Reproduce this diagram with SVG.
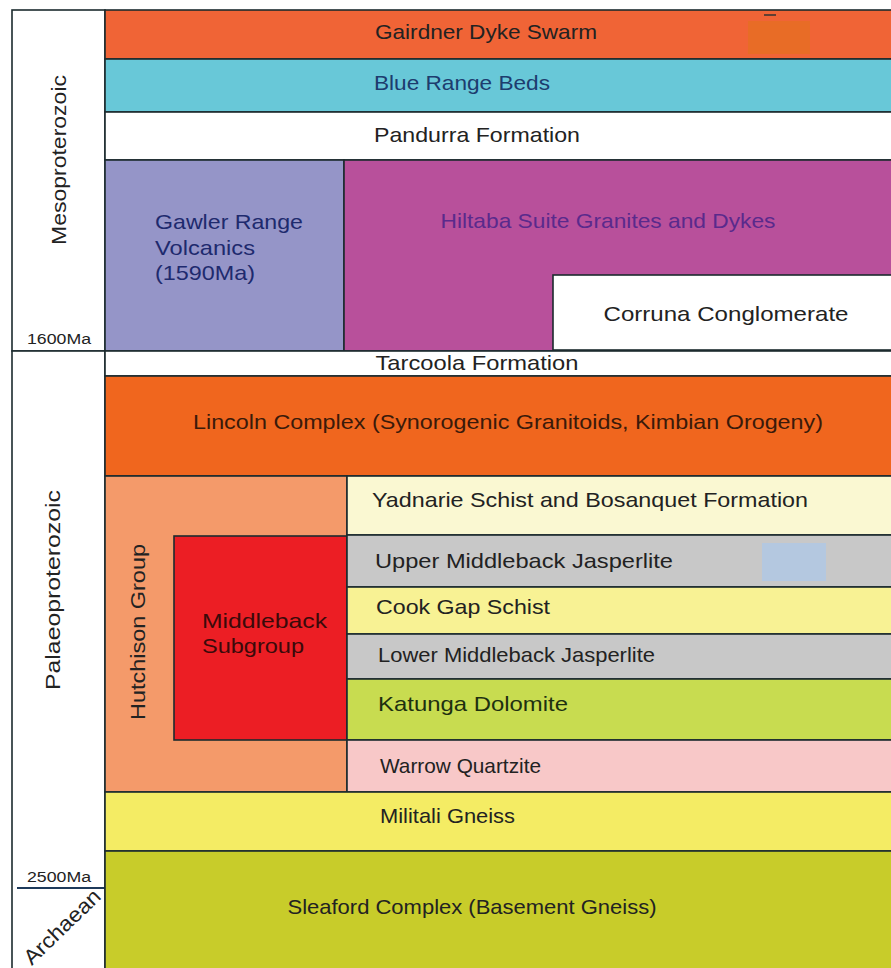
<svg xmlns="http://www.w3.org/2000/svg" width="891" height="968" viewBox="0 0 891 968">
<style>
.b{stroke:#1c2b2e;stroke-width:1.6}
.t{font-family:"Liberation Sans",Arial,sans-serif;font-size:21px;fill:#222}
.s{font-family:"Liberation Sans",Arial,sans-serif;font-size:14px;fill:#222}
</style>
<rect width="891" height="968" fill="#fff"/>
<g id="timescale">
<rect x="12" y="10" width="93" height="341" fill="#fff" class="b"/>
<rect x="12" y="351" width="93" height="620" fill="#fff" class="b"/>
<line x1="17" y1="888" x2="105" y2="888" stroke="#1e3a5a" stroke-width="2"/>
<text class="t" transform="translate(66,160) rotate(-90)" text-anchor="middle" textLength="170" lengthAdjust="spacingAndGlyphs">Mesoproterozoic</text>
<text class="s" x="59" y="344" text-anchor="middle" textLength="64" lengthAdjust="spacingAndGlyphs">1600Ma</text>
<text class="t" transform="translate(60,590) rotate(-90)" text-anchor="middle" textLength="200" lengthAdjust="spacingAndGlyphs">Palaeoproterozoic</text>
<text class="s" x="59" y="882" text-anchor="middle" textLength="64" lengthAdjust="spacingAndGlyphs">2500Ma</text>
<text class="t" transform="translate(67,932) rotate(-44)" text-anchor="middle" textLength="98" lengthAdjust="spacingAndGlyphs">Archaean</text>
</g>
<g id="gairdner">
<rect x="105" y="10" width="790" height="49" fill="#F06436" class="b"/>
<rect x="748" y="21" width="62" height="33" fill="#E86C26"/>
<line x1="764" y1="15" x2="776" y2="15" stroke="#333" stroke-width="1.5"/>
<text class="t" x="486" y="39" text-anchor="middle" textLength="222" lengthAdjust="spacingAndGlyphs">Gairdner Dyke Swarm</text>
</g>
<g id="bluerange">
<rect x="105" y="59" width="790" height="53" fill="#68C8D8" class="b"/>
<text class="t" x="462" y="90" text-anchor="middle" style="fill:#1d3c6e" textLength="176" lengthAdjust="spacingAndGlyphs">Blue Range Beds</text>
</g>
<g id="pandurra">
<rect x="105" y="112" width="790" height="48" fill="#fff" class="b"/>
<text class="t" x="477" y="142" text-anchor="middle" textLength="206" lengthAdjust="spacingAndGlyphs">Pandurra Formation</text>
</g>
<g id="gawler">
<rect x="105" y="160" width="239" height="191" fill="#9595C8" class="b"/>
<text class="t" x="155" y="229" style="fill:#1e2a6e" textLength="148" lengthAdjust="spacingAndGlyphs">Gawler Range</text>
<text class="t" x="155" y="255" style="fill:#1e2a6e" textLength="100" lengthAdjust="spacingAndGlyphs">Volcanics</text>
<text class="t" x="155" y="280" style="fill:#1e2a6e" textLength="100" lengthAdjust="spacingAndGlyphs">(1590Ma)</text>
</g>
<g id="hiltaba">
<rect x="344" y="160" width="551" height="191" fill="#B8509B" class="b"/>
<text class="t" x="608" y="228" text-anchor="middle" style="fill:#5a2a8c" textLength="335" lengthAdjust="spacingAndGlyphs">Hiltaba Suite Granites and Dykes</text>
</g>
<g id="corruna">
<rect x="553" y="275" width="342" height="75" fill="#fff" class="b"/>
<text class="t" x="726" y="321" text-anchor="middle" textLength="245" lengthAdjust="spacingAndGlyphs">Corruna Conglomerate</text>
</g>
<g id="tarcoola">
<rect x="105" y="351" width="790" height="25" fill="#fff" class="b"/>
<text class="t" x="477" y="370" text-anchor="middle" textLength="203" lengthAdjust="spacingAndGlyphs">Tarcoola Formation</text>
</g>
<g id="lincoln">
<rect x="105" y="376" width="790" height="100" fill="#F0661E" class="b"/>
<text class="t" x="508" y="429" text-anchor="middle" style="fill:#3a1a0a" textLength="630" lengthAdjust="spacingAndGlyphs">Lincoln Complex (Synorogenic Granitoids, Kimbian Orogeny)</text>
</g>
<g id="hutchison">
<rect x="105" y="476" width="242" height="316" fill="#F49A6A" class="b"/>
<text class="t" transform="translate(145,632) rotate(-90)" text-anchor="middle" textLength="176" lengthAdjust="spacingAndGlyphs">Hutchison Group</text>
</g>
<g id="middleback">
<rect x="174" y="536" width="173" height="204" fill="#EC1E24" class="b"/>
<text class="t" x="202" y="628" style="fill:#3a0a0a" textLength="125" lengthAdjust="spacingAndGlyphs">Middleback</text>
<text class="t" x="202" y="653" style="fill:#3a0a0a" textLength="102" lengthAdjust="spacingAndGlyphs">Subgroup</text>
</g>
<g id="yadnarie">
<rect x="347" y="476" width="548" height="59" fill="#FAF8D2" class="b"/>
<text class="t" x="372" y="507" textLength="436" lengthAdjust="spacingAndGlyphs">Yadnarie Schist and Bosanquet Formation</text>
</g>
<g id="upper-middleback">
<rect x="347" y="535" width="548" height="52" fill="#C8C8C8" class="b"/>
<rect x="762" y="543" width="64" height="38" fill="#B4C8E0"/>
<text class="t" x="375" y="568" textLength="298" lengthAdjust="spacingAndGlyphs">Upper Middleback Jasperlite</text>
</g>
<g id="cookgap">
<rect x="347" y="587" width="548" height="47" fill="#F8F294" class="b"/>
<text class="t" x="376" y="614" textLength="174" lengthAdjust="spacingAndGlyphs">Cook Gap Schist</text>
</g>
<g id="lower-middleback">
<rect x="347" y="634" width="548" height="45" fill="#C8C8C8" class="b"/>
<text class="t" x="378" y="662" textLength="277" lengthAdjust="spacingAndGlyphs">Lower Middleback Jasperlite</text>
</g>
<g id="katunga">
<rect x="347" y="679" width="548" height="61" fill="#C8DC50" class="b"/>
<text class="t" x="378" y="711" style="fill:#1e3010" textLength="190" lengthAdjust="spacingAndGlyphs">Katunga Dolomite</text>
</g>
<g id="warrow">
<rect x="347" y="740" width="548" height="52" fill="#F8C8C8" class="b"/>
<text class="t" x="380" y="773" textLength="161" lengthAdjust="spacingAndGlyphs">Warrow Quartzite</text>
</g>
<g id="militali">
<rect x="105" y="792" width="790" height="59" fill="#F4EC64" class="b"/>
<text class="t" x="380" y="823" textLength="135" lengthAdjust="spacingAndGlyphs">Militali Gneiss</text>
</g>
<g id="sleaford">
<rect x="105" y="851" width="790" height="120" fill="#C8CC2A" class="b"/>
<text class="t" x="472" y="914" text-anchor="middle" textLength="369" lengthAdjust="spacingAndGlyphs">Sleaford Complex (Basement Gneiss)</text>
</g>
<g id="connectors"></g>
</svg>
